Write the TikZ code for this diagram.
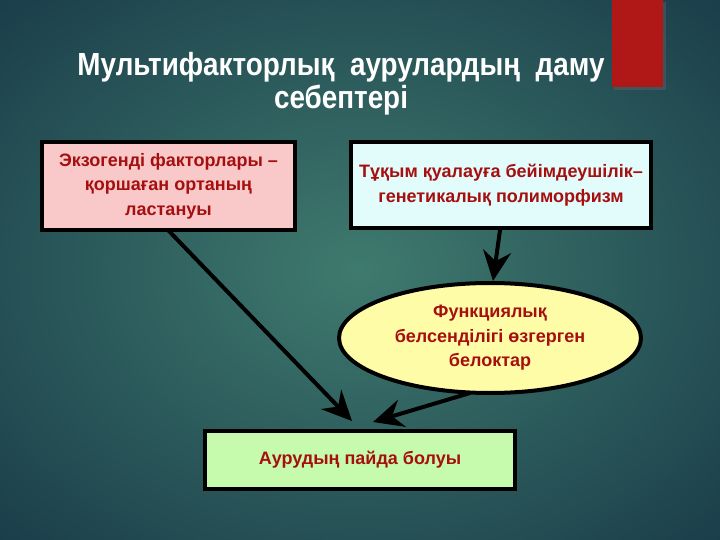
\documentclass[tikz,border=0pt]{standalone}
\usepackage{fontspec}
\setmainfont{Liberation Sans}
\newfontfamily\titlefont[FakeStretch=0.87]{Liberation Sans}
\usetikzlibrary{shapes.geometric,arrows.meta,shadows}
\definecolor{bgin}{HTML}{3F7A6E}
\definecolor{bgout}{HTML}{173847}
\definecolor{redbar}{HTML}{B01717}
\definecolor{txtred}{HTML}{A50F0F}
\definecolor{pinkf}{HTML}{F9C8C8}
\definecolor{cyanf}{HTML}{E2FCFC}
\definecolor{yelf}{HTML}{FFFCA8}
\definecolor{greenf}{HTML}{C6FBAE}
\begin{document}
\begin{tikzpicture}[x=1pt,y=-1pt,
  boxstyle/.style={draw=black,line width=4pt,font=\bfseries\fontsize{18}{24.5}\selectfont,text=txtred,align=center,inner sep=0pt},
  conn/.style={line width=4pt,-{Stealth[length=30pt,width=28pt,inset=10pt]}}]
\useasboundingbox (0,0) rectangle (720,540);
\shade[inner color=bgin,outer color=bgout] (-200,-150) rectangle (920,690);
\fill[black!60,opacity=0.4] (614,2) rectangle (666,90);
\fill[redbar] (612,0) rectangle (663,87);
\node[text=white,font=\titlefont\bfseries\fontsize{32}{33}\selectfont,align=center] (title) at (341,84)
  {Мультифакторлық\ \ аурулардың\ \ даму\\себептері};
\node[boxstyle,fill=pinkf,minimum width=253pt,minimum height=88pt] (exo) at (168.5,186)
  {Экзогенді факторлары –\\қоршаған ортаның\\ластануы};
\node[boxstyle,fill=cyanf,minimum width=300pt,minimum height=86pt] (gen) at (501,185)
  {Тұқым қуалауға бейімдеушілік–\\генетикалық полиморфизм};
\node[boxstyle,ellipse,fill=yelf,minimum width=302pt,minimum height=110pt] (prot) at (490,338)
  {Функциялық\\белсенділігі өзгерген\\белоктар};
\node[boxstyle,fill=greenf,minimum width=310pt,minimum height=58pt] (dis) at (360,460)
  {Аурудың пайда болуы};
\coordinate (t1) at (352,421);
\coordinate (t3) at (373,422);
\draw[conn] (168,230) -- (t1);
\draw[conn] (gen.south -| 500,0) -- (prot.north -| 493,0);
\draw[conn] (prot.south -| 470,0) ++(0,-2) -- (t3);
\end{tikzpicture}
\end{document}
